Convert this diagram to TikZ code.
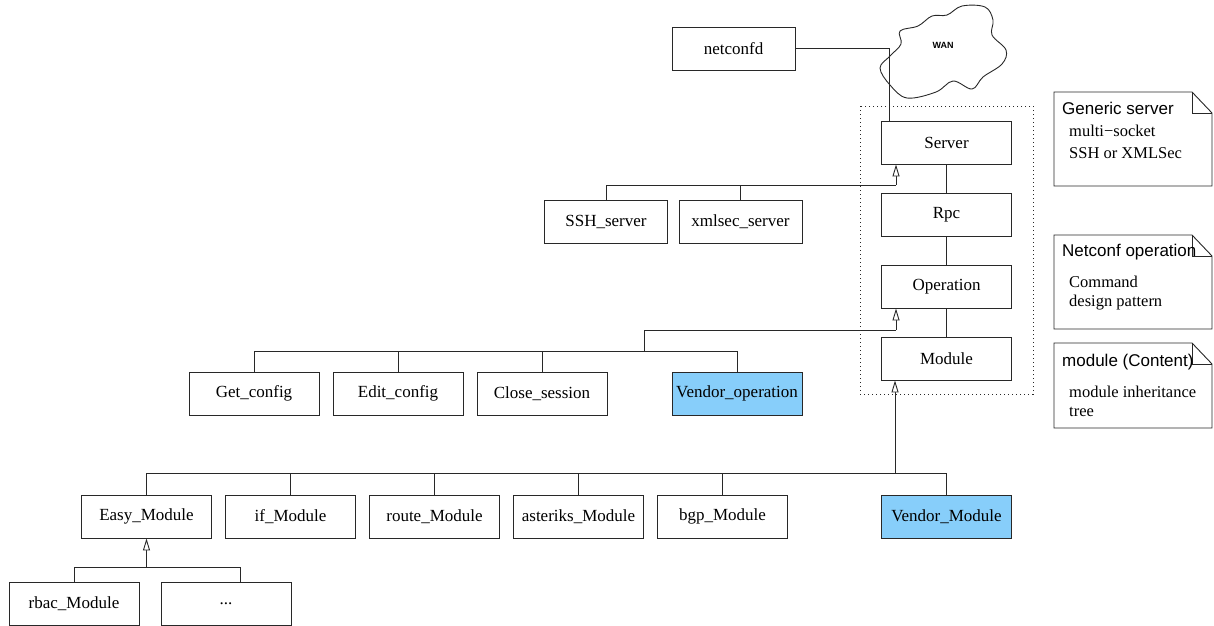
\documentclass[tikz,border=0pt]{standalone}
\usepackage{fontspec}
\setmainfont{Liberation Serif}
\newfontfamily\notesans{Liberation Sans}
\usetikzlibrary{arrows.meta,calc}
\definecolor{vendorblue}{RGB}{135,206,250}
\definecolor{linegray}{RGB}{40,40,40}
\begin{document}
\begin{tikzpicture}[x=1pt,y=-1pt,
  box/.style={draw=linegray,line width=0.9pt,minimum width=130pt,minimum height=43pt,inner sep=0pt,font=\fontsize{17}{20}\selectfont,fill=white},
  nbox/.style={box,minimum width=123pt},
  vendor/.style={box,fill=vendorblue},
  link/.style={draw=linegray,line width=0.9pt},
  inh/.style={link,-{Triangle[open,length=12pt,width=7pt,fill=white]}},
  dotbox/.style={draw=linegray,line width=0.9pt,dash pattern=on 1pt off 3pt},
  notebox/.style={draw=linegray,line width=0.9pt},
  notetitle/.style={anchor=west,inner sep=0pt,font=\notesans\fontsize{17}{20}\selectfont},
  notetext/.style={anchor=west,inner sep=0pt,font=\fontsize{16.5}{19}\selectfont},
]
\useasboundingbox (0,0) rectangle (1214,625);

% cloud
\draw[link] plot[smooth cycle, tension=0.6] coordinates {
 (962,6) (985,7) (993,20) (992,35) (1006,50) (1002,64) (983,77)
 (972,89) (953,81) (936,92) (907,98) (890,85) (880,68) (890,56)
 (901,44) (900,31) (918,26) (932,16) (947,15)};
\node[font=\notesans\bfseries\fontsize{9}{10}\selectfont] (wan) at (943,45) {WAN};

% dotted group
\draw[dotbox] (860,106) rectangle (1033,394);

% main chain
\node[nbox] (netconfd) at (733.5,48.5) {netconfd};
\node[box] (server) at (946.5,142.5) {Server};
\node[box] (rpc) at (946.5,214.5) {Rpc};
\node[box] (operation) at (946.5,286.5) {Operation};
\node[box] (module) at (946.5,358.5) {Module};

% servers
\node[nbox] (ssh) at (606,221.5) {SSH\_server};
\node[nbox] (xmlsec) at (740.5,221.5) {xmlsec\_server};

% operations
\node[box] (get) at (254,393.5) {Get\_config};
\node[box] (edit) at (398,393.5) {Edit\_config};
\node[box] (close) at (542,393.5) {Close\_session};
\node[vendor] (vendorop) at (737,393.5) {Vendor\_operation};

% modules
\node[box] (easy) at (146.5,516.5) {Easy\_Module};
\node[box] (ifm) at (290.5,516.5) {if\_Module};
\node[box] (route) at (434.5,516.5) {route\_Module};
\node[box] (asteriks) at (578.5,516.5) {asteriks\_Module};
\node[box] (bgp) at (722.5,516.5) {bgp\_Module};
\node[vendor] (vendormod) at (946.5,516.5) {Vendor\_Module};

% bottom
\node[box] (rbac) at (74,603.5) {rbac\_Module};
\node[box] (dots) at (226,603.5) {...};

% connectors: chain
\draw[link] (netconfd.east) -| ($(server.north)+(-57.5,0)$);
\draw[link] (server) -- (rpc);
\draw[link] (rpc) -- (operation);
\draw[link] (operation) -- (module);

% server inheritance
\coordinate (sj) at (896,185);
\draw[link] (ssh.north) |- (sj);
\draw[link] (xmlsec.north) -- (xmlsec.north |- sj);
\draw[inh] (sj) -- (sj |- server.south);

% operation inheritance
\coordinate (oj) at (896,330);
\coordinate (ob) at (644,351);
\draw[link] (get.north) |- (vendorop.north |- ob) -- (vendorop.north);
\draw[link] (edit.north) -- (edit.north |- ob);
\draw[link] (close.north) -- (close.north |- ob);
\draw[link] (ob) |- (oj);
\draw[inh] (oj) -- (oj |- operation.south);

% module inheritance
\coordinate (mb) at (895,473);
\draw[link] (easy.north) |- (vendormod.north |- mb) -- (vendormod.north);
\foreach \n in {ifm,route,asteriks,bgp}
  \draw[link] (\n.north) -- (\n.north |- mb);
\draw[inh] (mb) -- (mb |- module.south);

% easy inheritance
\coordinate (dj) at (240,567);
\draw[link] (rbac.north) |- (dj) -- (dj |- dots.north);
\draw[inh] (easy.south |- dj) -- (easy.south);

% notes
\draw[notebox] (1054,92) -- (1192,92) -- (1212,113) -- (1212,186) -- (1054,186) -- cycle;
\draw[notebox] (1192,92) -- (1192,113) -- (1212,113);
\node[notetitle] (n1a) at (1062,108) {Generic server};
\node[notetext] (n1b) at (1069,131) {multi−socket};
\node[notetext] (n1c) at (1069,153) {SSH or XMLSec};

\draw[notebox] (1054,235) -- (1192,235) -- (1212,256) -- (1212,329) -- (1054,329) -- cycle;
\draw[notebox] (1192,235) -- (1192,256) -- (1212,256);
\node[notetitle] (n2a) at (1062,252) {Netconf operation};
\node[notetext] (n2b) at (1069,282) {Command};
\node[notetext] (n2c) at (1069,303) {design pattern};

\draw[notebox] (1054,343) -- (1192,343) -- (1212,364) -- (1212,428) -- (1054,428) -- cycle;
\draw[notebox] (1192,343) -- (1192,364) -- (1212,364);
\node[notetitle] (n3a) at (1062,362) {module (Content)};
\node[notetext] (n3b) at (1069,392) {module inheritance};
\node[notetext] (n3c) at (1069,412) {tree};
\end{tikzpicture}
\end{document}
